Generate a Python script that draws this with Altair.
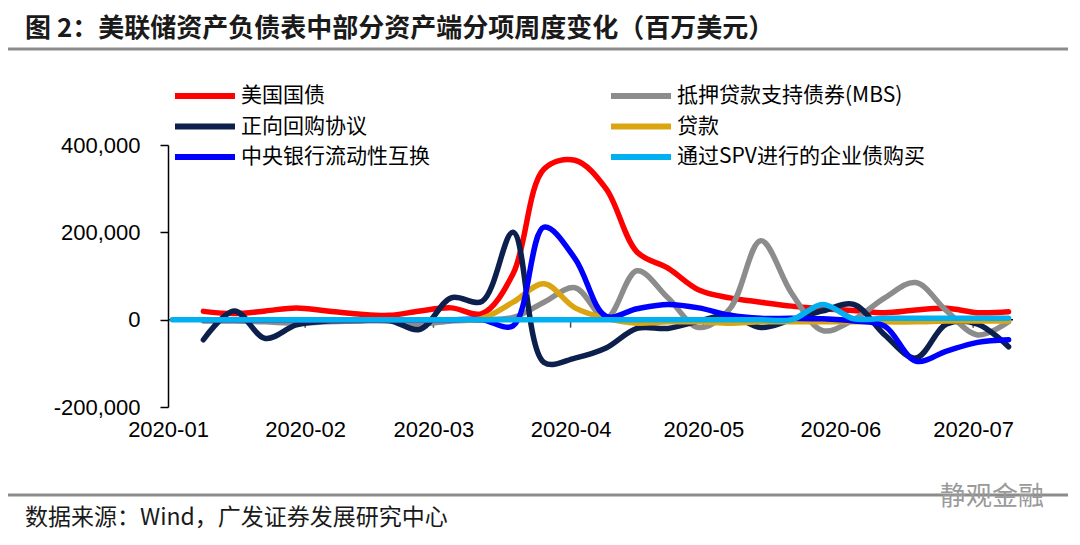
import altair as alt
import pandas as pd

# ---------------- data (millions USD) ----------------
dates = [
    "2020-01-09", "2020-01-16", "2020-01-23", "2020-01-30",
    "2020-02-06", "2020-02-13", "2020-02-20", "2020-02-27",
    "2020-03-05", "2020-03-12", "2020-03-19", "2020-03-26",
    "2020-04-02", "2020-04-09", "2020-04-16", "2020-04-23", "2020-04-30",
    "2020-05-07", "2020-05-14", "2020-05-21", "2020-05-28",
    "2020-06-04", "2020-06-11", "2020-06-18", "2020-06-25",
    "2020-07-02", "2020-07-09",
]
spv_dates = ["2020-01-02"] + dates

treasury = [19000, 14000, 20000, 27000, 20000, 13000, 10000, 20000, 27000, 14000,
            105000, 345000, 365000, 300000, 155000, 118000, 68000, 50000, 40000, 31000,
            25000, 21000, 16000, 22000, 26000, 16000, 18000]
mbs = [-3000, -3000, -5000, -8000, -5000, -3000, -3000, -10000, -3000, 0,
       5000, 40000, 73000, 3000, 112000, 50000, -18000, 25000, 181000, 60000,
       -25000, 0, 50000, 85000, 20000, -35000, -5000]
repo = [-46000, 20000, -43000, -12000, -3000, -2000, -2000, -22000, 50000, 42000,
        200000, -98000, -88000, -65000, -20000, -20000, -3000, 10000, -18000, 0,
        20000, 35000, -35000, -88000, -10000, -10000, -62000]
loans = [0, 0, 0, 0, 0, 0, 0, 0, 0, 3000,
         40000, 82000, 27000, 3000, -8000, -5000, -5000, -8000, -5000, -5000,
         -5000, -5000, -5000, -5000, -3000, -3000, -3000]
swaps = [0, 0, 0, 0, 0, 0, 0, 0, 0, 0,
         -14000, 212000, 140000, 8000, 25000, 35000, 27000, 10000, 3000, 3000,
         2000, -3000, -15000, -95000, -72000, -52000, -46000]
spv = [0, 0, 0, 0, 0, 0, 0, 0, 0, 0, 0,
       0, 0, 0, 0, 0, 0, 0, 0, 0, 0,
       35000, 2000, 3000, 3000, 3000, 3000, 3000]

# drawing order (first drawn at the bottom)
series_names = ["美国国债", "抵押贷款支持债券(MBS)", "正向回购协议", "贷款",
                "中央银行流动性互换", "通过SPV进行的企业债购买"]
series_values = [treasury, mbs, repo, loans, swaps, spv]
series_dates = [dates, dates, dates, dates, dates, spv_dates]
series_colors = ["#FF0000", "#8C8C8C", "#0D1F4D", "#DBA512", "#0000FF", "#00B0F0"]

# legend order (filled column by column, three rows)
legend_order = ["美国国债", "正向回购协议", "中央银行流动性互换",
                "抵押贷款支持债券(MBS)", "贷款", "通过SPV进行的企业债购买"]

month_starts = ["2020-01-01", "2020-02-01", "2020-03-01", "2020-04-01",
                "2020-05-01", "2020-06-01", "2020-07-01"]
y_ticks = [-200000, 0, 200000, 400000]

title_text = "图 2：美联储资产负债表中部分资产端分项周度变化（百万美元）"
source_text = "数据来源：Wind，广发证券发展研究中心"
watermark_text = "静观金融"

# ---------------- tables ----------------
rows = []
for name, ds, vals in zip(series_names, series_dates, series_values):
    for d, v in zip(ds, vals):
        rows.append({"date": d + "T00:00:00", "series": name, "value": v})
df = pd.DataFrame(rows)
ticks_df = pd.DataFrame({"date": [m + "T00:00:00" for m in month_starts[1:]]})

color_of = dict(zip(series_names, series_colors))

AX_FONT = "Liberation Sans"
CJK = "Noto Sans CJK SC"

x_scale = alt.Scale(domain=[alt.DateTime(year=2020, month=1, date=1),
                            alt.DateTime(year=2020, month=7, date=10)])
y_scale = alt.Scale(domain=[-200000, 400000], nice=False)

x_axis = alt.Axis(
    values=[alt.DateTime(year=2020, month=int(m[5:7]), date=1) for m in month_starts],
    format="%Y-%m", title=None, domain=False, ticks=False, tickSize=0, grid=False,
    labelPadding=12, labelFont=AX_FONT, labelFontSize=22, labelColor="black",
    labelFlush=False, labelOverlap=False,
)
y_axis = alt.Axis(
    values=y_ticks, format=",d", title=None, grid=False,
    labelExpr="replace(datum.label, '\u2212', '-')",
    domainColor="black", domainWidth=1.5, tickColor="black", tickWidth=1.5,
    tickSize=8, labelPadding=20, labelFont=AX_FONT, labelFontSize=22,
    labelColor="black",
)

color_enc = alt.Color(
    "series:N",
    scale=alt.Scale(domain=legend_order, range=[color_of[n] for n in legend_order]),
    sort=legend_order,
    legend=alt.Legend(
        title=None, orient="none", legendX=4, legendY=-59, columns=2,
        columnPadding=178, rowPadding=9.5, symbolType="stroke",
        symbolSize=3600, symbolStrokeWidth=6, clipHeight=20,
        labelFont=CJK, labelFontSize=21, labelColor="black",
        labelOffset=3, labelLimit=0, padding=0,
    ),
)

zero_rule = alt.Chart(pd.DataFrame({"v": [0]})).mark_rule(
    color="black", strokeWidth=1.5
).encode(y=alt.Y("v:Q", scale=y_scale, axis=y_axis))

month_ticks = alt.Chart(ticks_df).mark_tick(
    orient="vertical", size=8, thickness=1.5, color="black", yOffset=4
).encode(
    x=alt.X("date:T", scale=x_scale, axis=x_axis),
    y=alt.datum(0),
)

line_layers = []
for name in series_names:
    line_layers.append(
        alt.Chart(df).transform_filter(alt.datum.series == name).mark_line(
            interpolate="catmull-rom", strokeWidth=5.5, strokeCap="round",
            strokeJoin="round"
        ).encode(
            x=alt.X("date:T", scale=x_scale, axis=x_axis),
            y=alt.Y("value:Q", scale=y_scale, axis=y_axis),
            color=color_enc,
        )
    )

title_mark = alt.Chart(pd.DataFrame({"t": [title_text]})).mark_text(
    align="left", baseline="middle", font=CJK, fontSize=26, fontWeight="bold",
    color="#1a1a1a"
).encode(text="t:N", x=alt.value(-143), y=alt.value(-116))

top_rule = alt.Chart(pd.DataFrame({"k": [1]})).mark_rule(
    color="#8c8c8c", strokeWidth=3
).encode(x=alt.value(-160), x2=alt.value(904), y=alt.value(-96))

bottom_rule = alt.Chart(pd.DataFrame({"k": [1]})).mark_rule(
    color="#8c8c8c", strokeWidth=3
).encode(x=alt.value(-160), x2=alt.value(904), y=alt.value(350))

source_mark = alt.Chart(pd.DataFrame({"t": [source_text]})).mark_text(
    align="left", baseline="middle", font=CJK, fontSize=23, color="#1a1a1a"
).encode(text="t:N", x=alt.value(-143), y=alt.value(373))

watermark_mark = alt.Chart(pd.DataFrame({"t": [watermark_text]})).mark_text(
    align="left", baseline="middle", font=CJK, fontSize=26, color="#9a9a9a"
).encode(text="t:N", x=alt.value(772), y=alt.value(352))

chart = alt.layer(
    zero_rule, month_ticks, *line_layers, top_rule, bottom_rule,
    title_mark, source_mark, watermark_mark,
).properties(
    width=845, height=262,
    padding={"left": 160, "top": 137, "right": 55, "bottom": 125},
    autosize=alt.AutoSizeParams(type="none"),
    background="white",
).configure_view(stroke=None)

chart.save("out.html", embed_options={"renderer": "svg", "actions": False})
